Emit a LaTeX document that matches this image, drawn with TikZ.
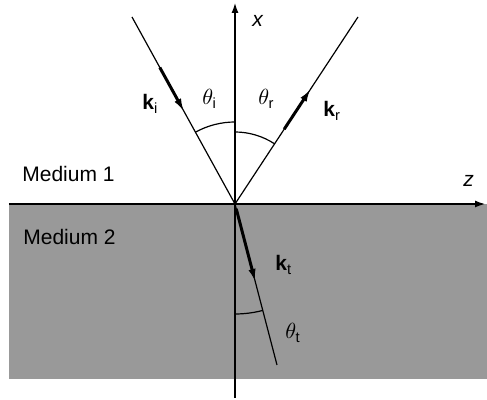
\documentclass[tikz,border=0pt]{standalone}
\usepackage{amsmath,fontspec}
\setmainfont{Liberation Sans}
\usetikzlibrary{arrows.meta,calc}
\definecolor{mediumG}{RGB}{153,153,153}
\begin{document}
\begin{tikzpicture}[x=0.5pt,y=0.5pt,font=\fontsize{10.5}{12}\selectfont,
  axis/.style={line width=1.25pt,-{Latex[length=5.5pt,width=3.5pt]}},
  ray/.style={line width=0.6pt},
  wave/.style={line width=1.5pt,-{Latex[length=7pt,width=3.6pt]}},
  lbl/.style={anchor=base west,inner sep=0pt}]
\useasboundingbox (-235,-196) rectangle (252,204);
\coordinate (O) at (0,0);
\coordinate (I) at (-103,187); \coordinate (R) at (123,187); \coordinate (T) at (42,-161);
\coordinate (Xb) at (0,-194); \coordinate (Xt) at (0,202);
\coordinate (Zl) at (-226,0); \coordinate (Zr) at (251,0); \coordinate (Gb) at (252,-175);
\fill[mediumG] (Zl) rectangle (Gb);
\draw[axis] (Zl) -- (Zr);
\draw[axis] (Xb) -- (Xt);
\draw[ray] (I) -- (O) -- (R);
\draw[ray] (O) -- (T);
\draw[wave] ($(I)!0.27!(O)$) -- ($(I)!0.51!(O)$);
\draw[wave] ($(O)!0.40!(R)$) -- ($(O)!0.62!(R)$);
\draw[wave] ($(O)!0.03!(T)$) -- ($(O)!0.49!(T)$);
\draw[ray] (O) ++(90:41pt) arc[start angle=90,end angle=118.8,radius=41pt];
\draw[ray] (O) ++(56.7:36pt) arc[start angle=56.7,end angle=90,radius=36pt];
\draw[ray] (O) ++(-90:55pt) arc[start angle=-90,end angle=-75.4,radius=55pt];
\node[lbl] (xlab) at (17,177) {\textit{x}};
\node[lbl] (zlab) at (228,17) {\textit{z}};
\node[lbl] (ki) at (-93,94) {\textbf{k}\textsubscript{i}};
\node[lbl] (kr) at (88,87) {\textbf{k}\textsubscript{r}};
\node[lbl] (kt) at (40,-67) {\textbf{k}\textsubscript{t}};
\node[lbl] (thi) at (-33,99) {$\theta_{\text{i}}$};
\node[lbl] (thr) at (23,99) {$\theta_{\text{r}}$};
\node[lbl] (tht) at (50,-135) {$\theta_{\text{t}}$};
\node[lbl] (med1) at (-213,22) {Medium 1};
\node[lbl] (med2) at (-212,-41) {Medium 2};
\end{tikzpicture}
\end{document}
